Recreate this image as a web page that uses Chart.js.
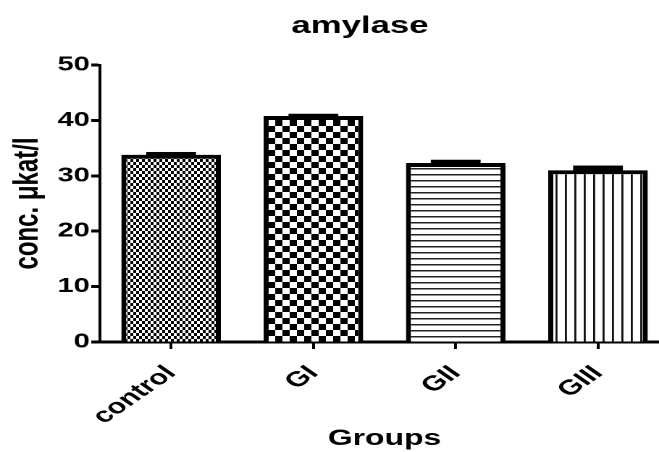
<!DOCTYPE html>
<html><head><meta charset="utf-8">
<script src="https://cdn.jsdelivr.net/npm/chart.js@4"></script>
<style>
html,body{margin:0;padding:0;background:#fff;overflow:hidden;width:659px;height:452px;}
#wrap{width:462px;height:452px;transform:scaleX(1.4484);transform-origin:0 0;}
</style></head><body>
<div id="wrap"><canvas id="c" width="462" height="452"></canvas></div>
<script>
const categories = ['control', 'GI', 'GII', 'GIII'];
const means = [33.8, 40.8, 32.3, 31.0];
const sems = [0.5, 0.4, 0.6, 0.85];
const yMin = 0, yMax = 50, yStep = 10;
const chartTitle = 'amylase';
const xTitle = 'Groups';
const yTitle = 'conc. μkat/l';

const FAM = '"Liberation Sans", Arial, sans-serif';

function makePattern(w, h, draw) {
  const c = document.createElement('canvas');
  c.width = w * 2; c.height = h * 2;
  const g = c.getContext('2d');
  g.scale(2, 2);
  g.fillStyle = '#fff'; g.fillRect(0, 0, w, h);
  g.fillStyle = '#000';
  draw(g, w, h);
  const p = g.createPattern(c, 'repeat');
  p.setTransform(new DOMMatrix([0.5, 0, 0, 0.5, 0, 0]));
  return p;
}
const patterns = [
  makePattern(4, 6, g => { g.fillRect(0, 0, 2, 3); g.fillRect(2, 3, 2, 3); }),
  makePattern(10, 12, g => { g.fillRect(0, 0, 5, 6); g.fillRect(5, 6, 5, 6); }),
  makePattern(4, 6, g => { g.fillStyle = '#222'; g.fillRect(0, 0, 4, 1.5); }),
  makePattern(13, 4, g => { g.fillStyle = '#111'; g.fillRect(0, 0, 1.4, 4); g.fillRect(6.5, 0, 1.4, 4); })
];

const errorBars = {
  id: 'errorBars',
  afterDatasetsDraw(chart) {
    const ctx = chart.ctx, y = chart.scales.y;
    const meta = chart.getDatasetMeta(0);
    ctx.save();
    ctx.fillStyle = '#000';
    meta.data.forEach((bar, i) => {
      const top = y.getPixelForValue(means[i] + sems[i]);
      const base = y.getPixelForValue(means[i]);
      const hw = bar.width / 4;
      ctx.fillRect(bar.x - hw, top, hw * 2, base - top + 1);
    });
    ctx.restore();
  }
};

const titlePlugin = {
  id: 'titlePlugin',
  afterDraw(chart) {
    const ctx = chart.ctx, a = chart.chartArea;
    ctx.save();
    ctx.font = 'bold 24px ' + FAM;
    ctx.fillStyle = '#000';
    ctx.textAlign = 'center';
    ctx.textBaseline = 'alphabetic';
    ctx.fillText(chartTitle, (a.left + a.right) / 2 - 17, 33);
    ctx.restore();
  }
};

new Chart(document.getElementById('c'), {
  type: 'bar',
  data: {
    labels: categories,
    datasets: [{
      data: means,
      backgroundColor: patterns,
      borderColor: '#000',
      borderWidth: { top: 4, left: 3.5, right: 3.5, bottom: 0 },
      borderSkipped: 'start',
      barPercentage: 0.7,
      categoryPercentage: 1.0
    }]
  },
  options: {
    responsive: false,
    devicePixelRatio: 2,
    animation: false,
    layout: { padding: { left: 0, right: 0, top: 65, bottom: 0 } },
    plugins: { legend: { display: false }, title: { display: false }, tooltip: { enabled: false } },
    scales: {
      x: {
        type: 'category',
        offset: true,
        grid: { display: true, drawOnChartArea: false, drawTicks: true, tickLength: 7, tickWidth: 2, tickColor: '#000', offset: false },
        border: { display: true, color: '#000', width: 3 },
        ticks: { color: '#000', font: { family: FAM, weight: 'bold', size: 21 }, minRotation: 45, maxRotation: 45, padding: 12 },
        title: { display: true, text: xTitle, color: '#000', font: { family: FAM, weight: 'bold', size: 22 }, padding: { top: 0, bottom: 0 } },
        afterFit(s) { s.height = 110; }
      },
      y: {
        min: yMin, max: yMax,
        grid: { display: true, drawOnChartArea: false, drawTicks: true, tickLength: 6, tickWidth: 3, tickColor: '#000' },
        border: { display: true, color: '#000', width: 2 },
        ticks: { stepSize: yStep, color: '#000', font: { family: FAM, weight: 'bold', size: 20 }, padding: 1 },
        title: { display: true, text: yTitle, color: '#000', font: { family: FAM, weight: 'bold', size: 24 }, padding: { top: 5, bottom: 0 } },
        afterFit(s) { s.width = 69; }
      }
    }
  },
  plugins: [errorBars, titlePlugin]
});
</script>
</body></html>
